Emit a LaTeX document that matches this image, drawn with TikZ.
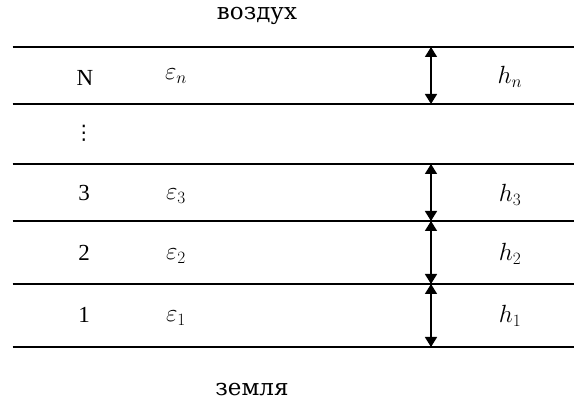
\documentclass[tikz,border=0pt]{standalone}
\usepackage{fontspec}
\setmainfont{Liberation Serif}
\newfontfamily\cyrfont{DejaVu Serif}
\newfontfamily\symfont{DejaVu Sans}
\usetikzlibrary{arrows.meta}
\tikzset{
  layerline/.style={line width=1.5pt},
  thick arrow/.style={line width=1.5pt, {Triangle[width=12pt,length=10pt]}-{Triangle[width=12pt,length=10pt]}},
  lbl/.style={inner sep=0pt, font=\fontsize{23}{26}\selectfont},
  mlbl/.style={inner sep=0pt, font=\fontsize{25}{28}\selectfont},
  cyr/.style={inner sep=0pt, font=\fontsize{23}{26}\selectfont\cyrfont}
}
\begin{document}
\begin{tikzpicture}[x=1pt,y=-1pt]
\useasboundingbox (0,0) rectangle (574,403);
% layer boundary lines
\foreach \y/\n in {47/L6,104/L5,164/L4,221/L3,284/L2,347/L1}{
  \coordinate (\n w) at (12.5,\y);
  \coordinate (\n e) at (574,\y);
  \coordinate (\n a) at (431,\y);
  \draw[layerline] (\n w) -- (\n e);
}
% thickness arrows
\draw[thick arrow] (L6a) -- (L5a);
\draw[thick arrow] (L4a) -- (L3a);
\draw[thick arrow] (L3a) -- (L2a);
\draw[thick arrow] (L2a) -- (L1a);
% texts
\node[cyr, anchor=base] (air) at (257,20) {воздух};
\node[cyr, anchor=base] (ground) at (252,396) {земля};
\node[lbl] (nN) at (85,78) {N};
\node[inner sep=0pt, font=\fontsize{20}{22}\selectfont\symfont] (ndots) at (84,133) {⋮};
\node[lbl] (n3) at (84,193) {3};
\node[lbl] (n2) at (84,253) {2};
\node[lbl] (n1) at (84,315) {1};
\node[mlbl] (eN) at (176,76) {$\varepsilon_n$};
\node[mlbl] (e3) at (176,196) {$\varepsilon_3$};
\node[mlbl] (e2) at (176,256) {$\varepsilon_2$};
\node[mlbl] (e1) at (176,318) {$\varepsilon_1$};
\node[mlbl] (hN) at (510,77) {$h_n$};
\node[mlbl] (h3) at (510,195) {$h_3$};
\node[mlbl] (h2) at (510,254) {$h_2$};
\node[mlbl] (h1) at (510,316) {$h_1$};
\end{tikzpicture}
\end{document}
